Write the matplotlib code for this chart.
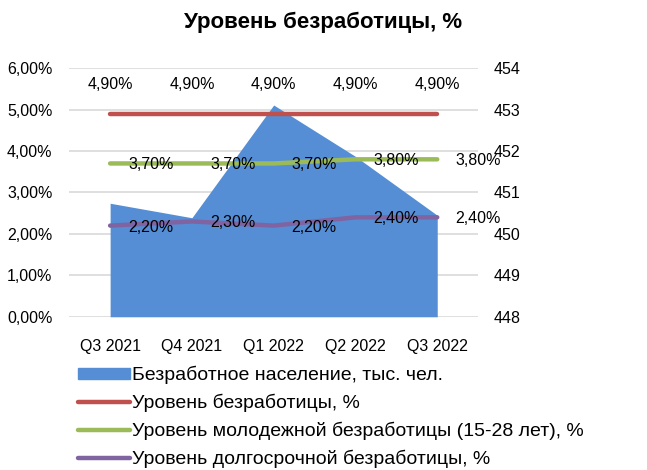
import matplotlib
matplotlib.use("Agg")
import matplotlib.pyplot as plt
import matplotlib.ticker as mticker
from matplotlib.patches import Patch
from matplotlib.lines import Line2D

quarters = ["Q3 2021", "Q4 2021", "Q1 2022", "Q2 2022", "Q3 2022"]
unemployed_k = [450.74, 450.39, 453.11, 451.87, 450.45]
rate_total = [4.9, 4.9, 4.9, 4.9, 4.9]
rate_youth = [3.7, 3.7, 3.7, 3.8, 3.8]
rate_long = [2.2, 2.3, 2.2, 2.4, 2.4]

names = [
    "Безработное население, тыс. чел.",
    "Уровень безработицы, %",
    "Уровень молодежной безработицы (15-28 лет), %",
    "Уровень долгосрочной безработицы, %",
]

blue = "#558ED5"
red = "#C0504D"
green = "#9BBB59"
purple = "#8064A2"
grid_color = "#D9D9D9"

plt.rcParams["font.family"] = ["Liberation Sans", "DejaVu Sans"]

fig = plt.figure(figsize=(6.47, 4.70), dpi=100)
ax2 = fig.add_axes([0.107, 0.326, 0.632, 0.529])
ax = ax2.twinx()
# area on the secondary axis, drawn below the percent lines
ax2.yaxis.tick_right()
ax.yaxis.tick_left()

x = list(range(len(quarters)))
ax2.fill_between(x, unemployed_k, 448, color=blue, linewidth=0, zorder=2)
ax2.set_ylim(448, 454)
ax2.set_xlim(-0.5, len(quarters) - 0.5)

ax.plot(x, rate_total, color=red, lw=3.2, solid_capstyle="round", zorder=3)
ax.plot(x, rate_youth, color=green, lw=3.2, solid_capstyle="round", zorder=3)
ax.plot(x, rate_long, color=purple, lw=3.2, solid_capstyle="round", zorder=3)
ax.set_ylim(0, 6)

for a in (ax, ax2):
    for s in a.spines.values():
        s.set_visible(False)
    a.tick_params(length=0, labelsize=11.5, colors="#000000")

ax.yaxis.set_major_locator(mticker.MultipleLocator(1))
ax.yaxis.set_major_formatter(
    mticker.FuncFormatter(lambda v, p: f"{v:.2f}".replace(".", ",") + "%"))
ax.tick_params(axis="y", pad=12)
ax2.yaxis.set_major_locator(mticker.MultipleLocator(1))
ax2.tick_params(axis="y", pad=11)
ax2.set_xticks(x)
ax2.set_xticklabels(quarters)
ax2.tick_params(axis="x", pad=16)

# gridlines on the primary percent scale
for v in range(0, 7):
    ax2.axhline(448 + v, color=grid_color, lw=1.2, zorder=1)

fmt = lambda v: f"{v:.2f}".replace(".", ",") + "%"
for i, v in enumerate(rate_total):
    ax.annotate(fmt(v), (i, v), xytext=(0, 21), textcoords="offset points",
                ha="center", va="center", fontsize=11.5, zorder=5)
for i, v in enumerate(rate_youth):
    ax.annotate(fmt(v), (i, v), xytext=(13, -1), textcoords="offset points",
                ha="left", va="center", fontsize=11.5, zorder=5)
for i, v in enumerate(rate_long):
    ax.annotate(fmt(v), (i, v), xytext=(13, -1), textcoords="offset points",
                ha="left", va="center", fontsize=11.5, zorder=5)

fig.suptitle("Уровень безработицы, %", y=0.975, fontsize=16, fontweight="bold")

handles = [
    Patch(color=blue),
    Line2D([], [], color=red, lw=3.2, solid_capstyle="round"),
    Line2D([], [], color=green, lw=3.2, solid_capstyle="round"),
    Line2D([], [], color=purple, lw=3.2, solid_capstyle="round"),
]
fig.legend(handles, names, loc="upper left", bbox_to_anchor=(0.12, 0.222),
           frameon=False, fontsize=14, handlelength=2.67, handleheight=0.5,
           handletextpad=0.15, labelspacing=0.5, borderaxespad=0, borderpad=0)

fig.savefig("out.png", dpi=100)
